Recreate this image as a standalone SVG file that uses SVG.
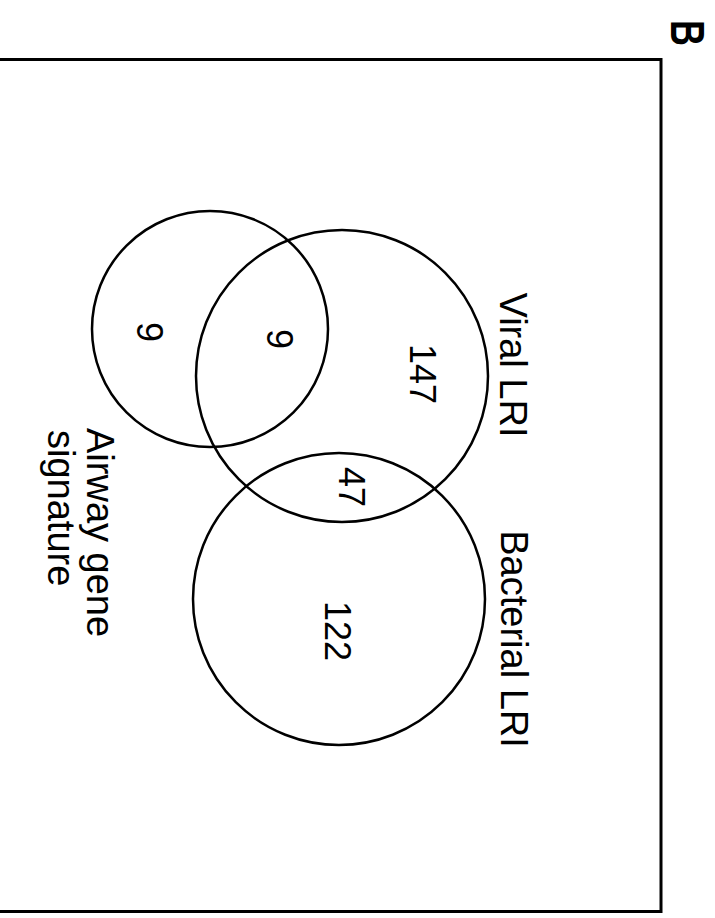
<svg xmlns="http://www.w3.org/2000/svg" width="715" height="918" viewBox="0 0 715 918">
<style>
.c{fill:none;stroke:#000;stroke-width:2.5}
.lbl{font-family:"Liberation Sans",Arial,sans-serif;font-size:38px;fill:#000}
.num{font-family:"Liberation Sans",Arial,sans-serif;font-size:36px;fill:#000;text-anchor:middle}
</style>
<rect x="0" y="0" width="715" height="918" fill="#fff"/>
<g id="frame"><rect x="-10" y="59.5" width="671" height="852" fill="none" stroke="#000" stroke-width="3"/></g>
<g id="panel-label"><text transform="translate(671,33) rotate(90) scale(0.75,1)" text-anchor="middle" font-family="Liberation Sans,Arial,sans-serif" font-weight="bold" font-size="48">B</text></g>
<g id="airway"><circle class="c" cx="210" cy="329" r="118"/>
<text class="lbl" transform="translate(87,428) rotate(90)">Airway gene</text>
<text class="lbl" transform="translate(48,430) rotate(90)">signature</text></g>
<g id="viral"><circle class="c" cx="342" cy="376" r="146"/>
<text class="lbl" transform="translate(500,365) rotate(90)" text-anchor="middle">Viral LRI</text></g>
<g id="bacterial"><circle class="c" cx="339" cy="599" r="146"/>
<text class="lbl" transform="translate(501,639) rotate(90)" text-anchor="middle">Bacterial LRI</text></g>
<g id="counts">
<text class="num" transform="translate(137,332) rotate(90)">9</text>
<text class="num" transform="translate(267,339) rotate(90)">9</text>
<text class="num" transform="translate(410,374) rotate(90)">147</text>
<text class="num" transform="translate(339,487) rotate(90)">47</text>
<text class="num" transform="translate(325,631) rotate(90)">122</text>
</g>
<g id="connectors"></g>
</svg>
